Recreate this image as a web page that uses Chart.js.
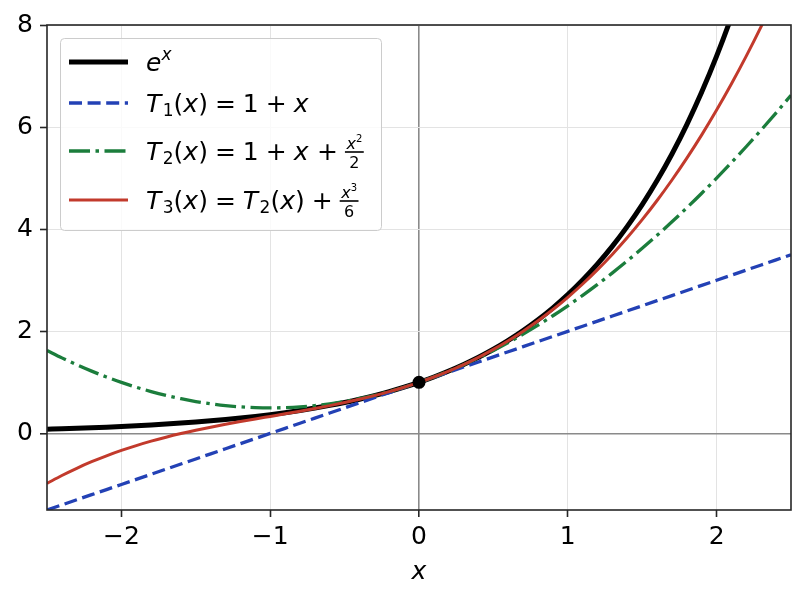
<!DOCTYPE html>
<html><head><meta charset="utf-8">
<script src="https://cdn.jsdelivr.net/npm/chart.js@4.4.0/dist/chart.umd.min.js"></script>
<style>html,body{margin:0;padding:0;background:#fff}#wrap{width:805px;height:602px;position:relative}</style>
</head><body><div id="wrap"><canvas id="c"></canvas></div>
<script>
// ---- data ----
const xValues = [-2.5,-2.4,-2.3,-2.2,-2.1,-2.0,-1.9,-1.8,-1.7,-1.6,-1.5,-1.4,-1.3,-1.2,-1.1,-1.0,-0.9,-0.8,-0.7,-0.6,-0.5,-0.4,-0.3,-0.2,-0.1,0,0.1,0.2,0.3,0.4,0.5,0.6,0.7,0.8,0.9,1.0,1.1,1.2,1.3,1.4,1.5,1.6,1.7,1.8,1.9,2.0,2.1,2.2,2.3,2.4,2.5];
const expValues = [0.0821,0.0907,0.1003,0.1108,0.1225,0.1353,0.1496,0.1653,0.1827,0.2019,0.2231,0.2466,0.2725,0.3012,0.3329,0.3679,0.4066,0.4493,0.4966,0.5488,0.6065,0.6703,0.7408,0.8187,0.9048,1,1.1052,1.2214,1.3499,1.4918,1.6487,1.8221,2.0138,2.2255,2.4596,2.7183,3.0042,3.3201,3.6693,4.0552,4.4817,4.9530,5.4739,6.0496,6.6859,7.3891,8.1662,9.0250,9.9742,11.0232,12.1825];
const t1Values = [-1.5,-1.4,-1.3,-1.2,-1.1,-1.0,-0.9,-0.8,-0.7,-0.6,-0.5,-0.4,-0.3,-0.2,-0.1,0,0.1,0.2,0.3,0.4,0.5,0.6,0.7,0.8,0.9,1.0,1.1,1.2,1.3,1.4,1.5,1.6,1.7,1.8,1.9,2.0,2.1,2.2,2.3,2.4,2.5,2.6,2.7,2.8,2.9,3.0,3.1,3.2,3.3,3.4,3.5];
const t2Values = [1.625,1.48,1.345,1.22,1.105,1.0,0.905,0.82,0.745,0.68,0.625,0.58,0.545,0.52,0.505,0.5,0.505,0.52,0.545,0.58,0.625,0.68,0.745,0.82,0.905,1,1.105,1.22,1.345,1.48,1.625,1.78,1.945,2.12,2.305,2.5,2.705,2.92,3.145,3.38,3.625,3.88,4.145,4.42,4.705,5.0,5.305,5.62,5.945,6.28,6.625];
const t3Values = [-0.9792,-0.824,-0.6828,-0.5547,-0.4385,-0.3333,-0.2382,-0.152,-0.0738,-0.0027,0.0625,0.1227,0.1788,0.232,0.2832,0.3333,0.3835,0.4347,0.4878,0.544,0.6042,0.6693,0.7405,0.8187,0.9048,1,1.1052,1.2213,1.3495,1.4907,1.6458,1.816,2.0022,2.2053,2.4265,2.6667,2.9268,3.208,3.5112,3.8373,4.1875,4.5627,4.9638,5.392,5.8482,6.3333,6.8485,7.3947,7.9728,8.584,9.2292];
const markerX = [0];
const markerY = [1];
const xTicks = [-2,-1,0,1,2];
const xTickLabels = ['\u22122','\u22121','0','1','2'];
const yTicks = [0,2,4,6,8];
const yTickLabels = ['0','2','4','6','8'];
const seriesNames = ['e^x','T_1(x) = 1 + x','T_2(x) = 1 + x + x^2/2','T_3(x) = T_2(x) + x^3/6'];
const xAxisTitle = 'x';

// ---- styling ----
const FONT = '"DejaVu Sans", "Liberation Sans", sans-serif';
const C_EXP = '#000000', C_T1 = '#2341b5', C_T2 = '#1b7d3c', C_T3 = '#c23a2c';
const DASH_T1 = [13, 5.6];
const DASH_T2 = [21, 5.5, 3.5, 5.5];
const TICK_FONT = 25;

const pts = ys => xValues.map((x, i) => ({x: x, y: ys[i]}));

const spinePlugin = {
  id: 'spines',
  afterDatasetsDraw(chart) {
    const {ctx, chartArea: a} = chart;
    ctx.save();
    ctx.strokeStyle = '#262626';
    ctx.lineWidth = 1.6;
    ctx.strokeRect(a.left, a.top, a.right - a.left, a.bottom - a.top);
    ctx.restore();
  }
};

const ITC = 1.5; // italic correction after italic glyphs
function drawMath(ctx, x, base, parts, dry) {
  for (const p of parts) {
    if (p.gap) { x += p.gap; continue; }
    if (p.frac) {
      const nw = drawMath(ctx, 0, 0, p.num, true);
      const dw = drawMath(ctx, 0, 0, p.den, true);
      const w = Math.max(nw, dw) + 3;
      if (!dry) {
        const by = base - 8;
        ctx.fillRect(x, by - 0.8, w, 1.6);
        drawMath(ctx, x + (w - nw) / 2, by - 3.5, p.num, false);
        drawMath(ctx, x + (w - dw) / 2, by + 16, p.den, false);
      }
      x += w;
      continue;
    }
    ctx.font = (p.i ? 'italic ' : '') + p.s + 'px ' + FONT;
    if (!dry) ctx.fillText(p.t, x, base + (p.dy || 0));
    x += ctx.measureText(p.t).width + (p.i && p.s > 20 && !p.noc ? ITC : 0);
  }
  return x;
}

const F = 25, SUB = 17, FR = 16, G = 7;
const rows = [
  {y: 62, color: C_EXP, lw: 5, dash: [], parts: [
    {t: 'e', i: 1, s: F, noc: 1}, {t: 'x', i: 1, s: 17, dy: -11}]},
  {y: 103, color: C_T1, lw: 3.3, dash: DASH_T1, parts: [
    {t: 'T', i: 1, s: F}, {t: '1', s: SUB, dy: 4}, {t: '(', s: F}, {t: 'x', i: 1, s: F, noc: 1}, {t: ')', s: F},
    {gap: G}, {t: '=', s: F}, {gap: G}, {t: '1', s: F}, {gap: G}, {t: '+', s: F}, {gap: G}, {t: 'x', i: 1, s: F}]},
  {y: 151, color: C_T2, lw: 3.3, dash: DASH_T2, parts: [
    {t: 'T', i: 1, s: F}, {t: '2', s: SUB, dy: 4}, {t: '(', s: F}, {t: 'x', i: 1, s: F, noc: 1}, {t: ')', s: F},
    {gap: G}, {t: '=', s: F}, {gap: G}, {t: '1', s: F}, {gap: G}, {t: '+', s: F}, {gap: G}, {t: 'x', i: 1, s: F},
    {gap: G}, {t: '+', s: F}, {gap: G},
    {frac: 1, num: [{t: 'x', i: 1, s: FR}, {t: '2', s: 10, dy: -7}], den: [{t: '2', s: FR}]}]},
  {y: 200, color: C_T3, lw: 3, dash: [], parts: [
    {t: 'T', i: 1, s: F}, {t: '3', s: SUB, dy: 4}, {t: '(', s: F}, {t: 'x', i: 1, s: F, noc: 1}, {t: ')', s: F},
    {gap: G}, {t: '=', s: F}, {gap: G}, {t: 'T', i: 1, s: F}, {t: '2', s: SUB, dy: 4}, {t: '(', s: F}, {t: 'x', i: 1, s: F, noc: 1}, {t: ')', s: F},
    {gap: G}, {t: '+', s: F}, {gap: G},
    {frac: 1, num: [{t: 'x', i: 1, s: FR}, {t: '3', s: 10, dy: -7}], den: [{t: '6', s: FR}]}]}
];

const legendPlugin = {
  id: 'mathLegend',
  afterDraw(chart) {
    const ctx = chart.ctx;
    ctx.save();
    const bx = 60.5, by = 38.5, bw = 321, bh = 192, r = 4;
    ctx.beginPath();
    ctx.moveTo(bx + r, by);
    ctx.arcTo(bx + bw, by, bx + bw, by + bh, r);
    ctx.arcTo(bx + bw, by + bh, bx, by + bh, r);
    ctx.arcTo(bx, by + bh, bx, by, r);
    ctx.arcTo(bx, by, bx + bw, by, r);
    ctx.closePath();
    ctx.fillStyle = 'rgba(255,255,255,0.8)';
    ctx.fill();
    ctx.strokeStyle = '#cccccc';
    ctx.lineWidth = 1;
    ctx.stroke();
    rows.forEach(row => {
      ctx.beginPath();
      ctx.setLineDash(row.dash);
      ctx.strokeStyle = row.color;
      ctx.lineWidth = row.lw;
      ctx.moveTo(69, row.y);
      ctx.lineTo(128, row.y);
      ctx.stroke();
      ctx.setLineDash([]);
      ctx.fillStyle = '#000';
      ctx.textBaseline = 'alphabetic';
      ctx.textAlign = 'left';
      drawMath(ctx, 146, row.y + 9, row.parts, false);
    });
    ctx.restore();
  }
};

const gridColor = c => (c.tick && c.tick.value === 0) ? '#8a8a8a' : '#e3e3e3';
const gridWidth = c => (c.tick && c.tick.value === 0) ? 1.6 : 1;

new Chart(document.getElementById('c'), {
  type: 'line',
  data: {
    datasets: [
      {label: seriesNames[3], data: pts(t3Values), borderColor: C_T3, borderWidth: 3, pointRadius: 0, fill: false, clip: 0, order: 1, cubicInterpolationMode: 'monotone'},
      {label: seriesNames[2], data: pts(t2Values), borderColor: C_T2, borderWidth: 3.3, borderDash: DASH_T2, pointRadius: 0, fill: false, clip: 0, order: 2, cubicInterpolationMode: 'monotone'},
      {label: seriesNames[1], data: pts(t1Values), borderColor: C_T1, borderWidth: 3.3, borderDash: DASH_T1, pointRadius: 0, fill: false, clip: 0, order: 3},
      {label: seriesNames[0], data: pts(expValues), borderColor: C_EXP, borderWidth: 5, pointRadius: 0, fill: false, clip: 0, order: 4, cubicInterpolationMode: 'monotone'},
      {label: 'point', data: markerX.map((x, i) => ({x: x, y: markerY[i]})), showLine: false, pointRadius: 6.5, pointBackgroundColor: '#000', pointBorderColor: '#000', pointBorderWidth: 0, order: 0}
    ]
  },
  options: {
    responsive: true,
    maintainAspectRatio: false,
    animation: false,
    events: [],
    layout: {padding: {left: 0, right: 14, top: 25, bottom: 0}},
    plugins: {legend: {display: false}, tooltip: {enabled: false}, title: {display: false}},
    scales: {
      x: {
        type: 'linear', min: -2.5, max: 2.5,
        afterBuildTicks: s => { s.ticks = xTicks.map(v => ({value: v})); },
        afterFit: s => { s.height = 92; },
        ticks: {
          autoSkip: false, maxRotation: 0, padding: 5, color: '#000',
          font: {family: FONT, size: TICK_FONT},
          callback: v => xTickLabels[xTicks.indexOf(v)]
        },
        grid: {color: gridColor, lineWidth: gridWidth, tickColor: '#262626', tickLength: 7, tickWidth: 1.6},
        border: {display: false},
        title: {display: true, text: xAxisTitle, color: '#000', font: {family: FONT, size: TICK_FONT, style: 'italic'}, padding: {top: 0, bottom: 15}}
      },
      y: {
        type: 'linear', min: -1.5, max: 8,
        afterBuildTicks: s => { s.ticks = yTicks.map(v => ({value: v})); },
        afterFit: s => { s.width = 47; },
        ticks: {
          autoSkip: false, padding: 7, color: '#000',
          font: {family: FONT, size: TICK_FONT},
          callback: v => yTickLabels[yTicks.indexOf(v)]
        },
        grid: {color: gridColor, lineWidth: gridWidth, tickColor: '#262626', tickLength: 7, tickWidth: 1.6},
        border: {display: false}
      }
    }
  },
  plugins: [spinePlugin, legendPlugin]
});
</script>
</body></html>
